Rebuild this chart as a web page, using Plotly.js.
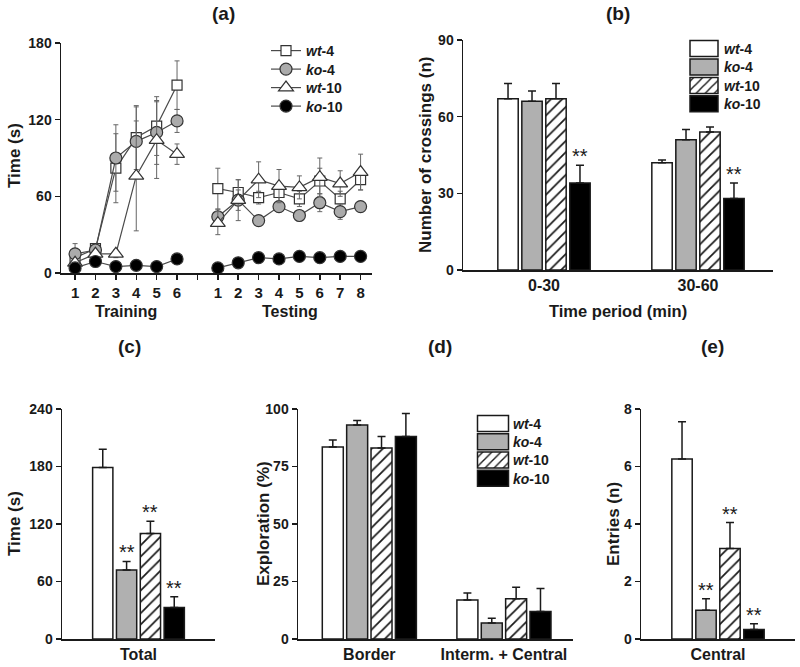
<!DOCTYPE html>
<html>
<head>
<meta charset="utf-8">
<script src="https://cdn.plot.ly/plotly-3.0.1.min.js"></script>
<style>
  html, body { margin: 0; padding: 0; background: #fff; }
  #chart { width: 800px; height: 667px; }
</style>
</head>
<body>
<div id="chart"></div>
<script>
// groups, in legend order
const groupNames = ['<i>wt</i>-4', '<i>ko</i>-4', '<i>wt</i>-10', '<i>ko</i>-10'];

// (a) time per trial, training and testing
const trainTrials = [1, 2, 3, 4, 5, 6];
const testTrials = [1, 2, 3, 4, 5, 6, 7, 8];
const trainMean = [
  [12, 19, 82, 106, 115, 147],
  [15, 18, 90, 103, 110, 119],
  [8, 15, 15, 76, 104, 93],
  [4, 9, 5, 6, 5, 11]
];
const trainErr = [
  [5, 3, 27, 25, 23, 19],
  [8, 3, 26, 27, 25, 9],
  [3, 3, 3, 43, 30, 8],
  [1, 1, 1, 1, 1, 1.5]
];
const testMean = [
  [66, 63, 59, 63, 58, 72, 58, 73],
  [44, 57, 41, 52, 45, 55, 48, 52],
  [39, 57, 73, 68, 67, 75, 70, 79],
  [4, 8, 12, 11, 13, 12, 13, 13]
];
const testErr = [
  [16, 10, 5, 7, 6, 10, 6, 8],
  [6, 8, 3, 4, 4, 7, 6, 4],
  [9, 16, 14, 13, 9, 15, 10, 14],
  [1, 1.5, 1.5, 1.5, 1.5, 1.5, 1.5, 1.5]
];

// (b) number of crossings
const periodCats = ['0-30', '30-60'];
const crossMean = [[67, 42], [66, 51], [67, 54], [34, 28]];
const crossErr = [[6, 1], [4, 4], [6, 2], [7, 6]];
const crossSig = [['', ''], ['', ''], ['', ''], ['**', '**']];

// (c) total time
const totalCats = ['Total'];
const totalMean = [[179], [72], [110], [33]];
const totalErr = [[19], [9], [13], [11]];
const totalSig = [[''], ['**'], ['**'], ['**']];

// (d) exploration by zone
const zoneCats = ['Border', 'Interm. + Central'];
const zoneMean = [[83.5, 17], [93, 7], [83, 17.5], [88, 12]];
const zoneErr = [[3, 3], [2, 2], [5, 5], [10, 10]];

// (e) entries in central zone
const entryCats = ['Central'];
const entryMean = [[6.26], [1.0], [3.15], [0.33]];
const entryErr = [[1.3], [0.4], [0.9], [0.2]];
const entrySig = [[''], ['**'], ['**'], ['**']];

const FONT = 'Liberation Sans, Arial, Helvetica, sans-serif';
const INK = '#1a1a1a';
const px = v => v / 800;
const py = v => 1 - v / 667;

// styles per group
const barFill = ['#ffffff', '#b0b0b0', '#ffffff', '#000000'];
const barPattern = ['', '', '/', ''];
const lineSymbol = ['square', 'circle', 'triangle-up', 'circle'];
const lineFill = ['#ffffff', '#ababab', '#ffffff', '#000000'];
const lineSize = [10, 12, 13, 12];

const traces = [];
const annotations = [];

// ---- (a) line chart ----
const gapPos = trainTrials.length + 1;
const xA = trainTrials.concat([gapPos], testTrials.map(t => t + gapPos));
groupNames.forEach((name, g) => {
  traces.push({
    type: 'scatter', mode: 'lines+markers',
    x: xA,
    y: trainMean[g].concat([null], testMean[g]),
    name: name, legend: 'legend',
    xaxis: 'x', yaxis: 'y',
    cliponaxis: false,
    line: {color: '#4a4a4a', width: 1.2},
    marker: {symbol: lineSymbol[g], size: lineSize[g], color: lineFill[g], line: {color: '#333', width: 1.2}},
    error_y: {type: 'data', array: trainErr[g].concat([0], testErr[g]), color: '#666', thickness: 1, width: 2.5}
  });
});

// ---- grouped bar panels ----
function addBars(cats, means, errs, xa, ya, legendId, custom) {
  groupNames.forEach((name, g) => {
    const t = {
      type: 'bar',
      x: cats, y: means[g],
      name: name,
      xaxis: xa, yaxis: ya,
      showlegend: !!legendId,
      legend: legendId || 'legend',
      marker: {
        color: barFill[g],
        line: {color: INK, width: 1.5},
        pattern: {shape: barPattern[g], fgcolor: INK, bgcolor: '#ffffff', size: 8, solidity: 0.22}
      },
      error_y: {type: 'data', symmetric: false, array: errs[g], arrayminus: errs[g].map(() => 0),
                color: INK, thickness: 1.5, width: 4}
    };
    if (custom) { t.width = custom.width; t.offset = custom.offset(g); }
    traces.push(t);
  });
}

function addStars(cats, means, errs, sig, xa, ya, pitch, yshift) {
  sig.forEach((row, g) => {
    row.forEach((s, c) => {
      if (!s) return;
      annotations.push({
        xref: xa, yref: ya,
        x: c + (g - 1.5) * pitch, y: means[g][c] + errs[g][c],
        text: s, showarrow: false, yanchor: 'bottom', yshift: yshift,
        font: {family: FONT, size: 20, color: INK}
      });
    });
  });
}

const PITCH = 0.156;
addBars(periodCats, crossMean, crossErr, 'x2', 'y2', 'legend2');
addStars(periodCats, crossMean, crossErr, crossSig, 'x2', 'y2', PITCH, -4);
addBars(totalCats, totalMean, totalErr, 'x3', 'y3', null);
addStars(totalCats, totalMean, totalErr, totalSig, 'x3', 'y3', PITCH, -4);
const dPitch = 0.181, dWidth = 0.156;
addBars(zoneCats, zoneMean, zoneErr, 'x4', 'y4', 'legend3', {
  width: dWidth,
  offset: g => (g - 2) * dPitch + (dPitch - dWidth) / 2
});
addBars(entryCats, entryMean, entryErr, 'x5', 'y5', null);
addStars(entryCats, entryMean, entryErr, entrySig, 'x5', 'y5', PITCH, -4);

// ---- axes ----
const tickFont = {family: FONT, size: 14, weight: 'bold', color: INK};
function yAx(top, bottom, range, dtick, anchor) {
  return {
    domain: [py(bottom), py(top)], range: range, dtick: dtick, tick0: 0,
    anchor: anchor, showline: true, linecolor: INK, linewidth: 1.5,
    ticks: 'outside', ticklen: 5, tickwidth: 1.5, tickcolor: INK,
    showgrid: false, zeroline: false, tickfont: tickFont, fixedrange: true
  };
}
function xCat(left, right, range, anchor) {
  return {
    domain: [px(left), px(right)], range: range, type: 'category',
    anchor: anchor, showline: true, linecolor: INK, linewidth: 1.5,
    ticks: '', showgrid: false, zeroline: false,
    tickfont: {family: FONT, size: 16, weight: 'bold', color: INK}, fixedrange: true
  };
}

const xTickText = trainTrials.map(String).concat([''], testTrials.map(String));

const legendBase = {
  xanchor: 'left', yanchor: 'top', bgcolor: 'rgba(0,0,0,0)',
  font: {family: FONT, size: 14, weight: 'bold', color: INK},
  tracegroupgap: 0, itemclick: false, itemdoubleclick: false
};

function label(text, x, y, size, angle) {
  annotations.push({
    xref: 'paper', yref: 'paper', x: px(x), y: py(y), text: text,
    showarrow: false, xanchor: 'center', yanchor: 'middle', textangle: angle || 0,
    font: {family: FONT, size: size, weight: 'bold', color: INK}
  });
}
label('(a)', 223, 14, 19);
label('(b)', 618, 14, 19);
label('(c)', 129, 346, 19);
label('(d)', 440, 346, 19);
label('(e)', 712, 346, 19);
label('Time (s)', 14, 156, 17, -90);
label('Number of crossings (n)', 425, 155, 17, -90);
label('Time (s)', 14, 524, 17, -90);
label('Exploration (%)', 263, 524, 17, -90);
label('Entries (n)', 613, 524, 17, -90);
label('Training', 126, 311, 16);
label('Testing', 290, 311, 16);
label('Time period (min)', 618, 311, 16.5);

const layout = {
  width: 800, height: 667,
  margin: {l: 0, r: 0, t: 0, b: 0},
  paper_bgcolor: '#ffffff', plot_bgcolor: '#ffffff',
  showlegend: true,
  barmode: 'group', bargap: 0.377, bargroupgap: 0.15,
  xaxis: {
    domain: [px(61), px(372)], range: [0.31, 15.56], anchor: 'y',
    tickmode: 'array', tickvals: xA, ticktext: xTickText,
    showline: true, linecolor: INK, linewidth: 1.5,
    ticks: 'outside', ticklen: 5, tickwidth: 1.5, tickcolor: INK,
    showgrid: false, zeroline: false, tickfont: {family: FONT, size: 15, weight: 'bold', color: INK}, fixedrange: true
  },
  yaxis: yAx(43, 273, [0, 180], 60, 'x'),
  xaxis2: xCat(463, 773, [-0.526, 1.487], 'y2'),
  yaxis2: yAx(40, 270, [0, 90], 30, 'x2'),
  xaxis3: xCat(62, 215, [-0.5, 0.5], 'y3'),
  yaxis3: yAx(409, 639, [0, 240], 60, 'x3'),
  xaxis4: xCat(298, 573, [-0.53, 1.513], 'y4'),
  yaxis4: yAx(409, 639, [0, 100], 25, 'x4'),
  xaxis5: xCat(641, 795, [-0.5, 0.5], 'y5'),
  yaxis5: yAx(409, 639, [0, 8], 2, 'x5'),
  legend: Object.assign({}, legendBase, {x: px(266), y: py(35), itemwidth: 30}),
  legend2: Object.assign({}, legendBase, {x: px(684), y: py(33)}),
  legend3: Object.assign({}, legendBase, {x: px(473), y: py(408)}),
  annotations: annotations
};

// legend swatches in the original are wide boxes with tight rows
const legendTweak = {
  legend: {pitch: 18.5},
  legend2: {pitch: 18.4, boxW: 28, boxH: 16, gap: 9},
  legend3: {pitch: 18.2, boxW: 31, boxH: 16, gap: 9}
};

function boxPath(w, h, off) {
  return 'M' + (off + w / 2) + ',' + (h / 2) + 'H' + (off - w / 2) +
         'V' + (-h / 2) + 'H' + (off + w / 2) + 'Z';
}

function tweakLegends(gd) {
  Object.keys(legendTweak).forEach(id => {
    const cfg = legendTweak[id];
    const g = gd.querySelector('g.' + id);
    if (!g) return;
    const items = g.querySelectorAll('g.traces');
    let y0 = null;
    items.forEach((it, i) => {
      const m = /translate\(([-\d.]+),\s*([-\d.]+)\)/.exec(it.getAttribute('transform') || '');
      if (!m) return;
      if (y0 === null) y0 = parseFloat(m[2]);
      it.setAttribute('transform', 'translate(' + m[1] + ',' + (y0 + i * cfg.pitch) + ')');
      if (!cfg.boxW) return;
      const txt = it.querySelector('text.legendtext');
      it.querySelectorAll('g.legendpoints path').forEach(p => {
        p.setAttribute('d', boxPath(cfg.boxW, cfg.boxH, 0));
        if (!txt) return;
        // put the box's right edge a small gap before the label
        const dx = (txt.getBoundingClientRect().left - cfg.gap) - p.getBoundingClientRect().right;
        p.setAttribute('d', boxPath(cfg.boxW, cfg.boxH, dx));
      });
    });
  });
}

Plotly.newPlot('chart', traces, layout, {displayModeBar: false, staticPlot: true}).then(gd => {
  tweakLegends(gd);
});
</script>
</body>
</html>
